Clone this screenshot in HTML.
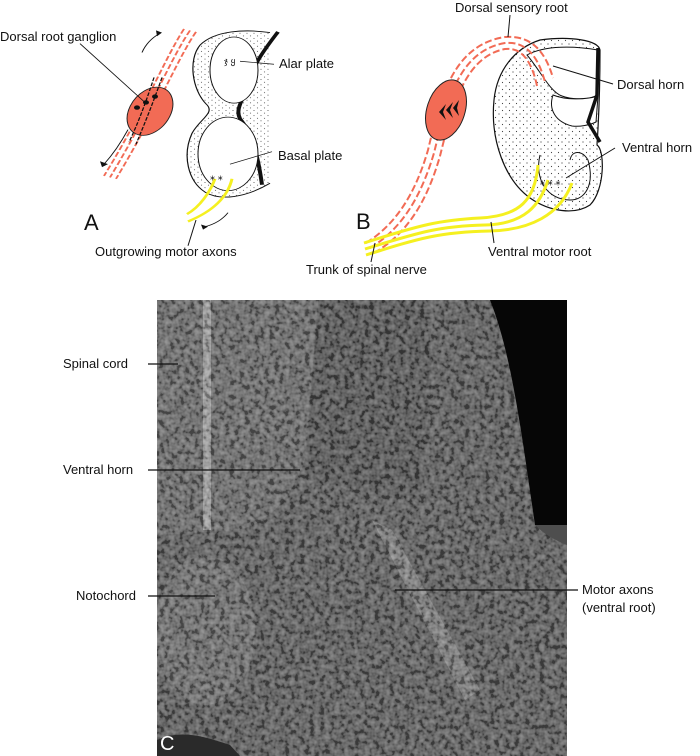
<!DOCTYPE html>
<html><head><meta charset="utf-8"><style>
html,body{margin:0;padding:0;background:#fff}
svg{display:block}
text{font-family:"Liberation Sans",sans-serif;font-size:13px;fill:#111}
</style></head><body>
<svg width="700" height="756" viewBox="0 0 700 756" xmlns="http://www.w3.org/2000/svg">
<defs>
<pattern id="dots" width="7" height="7" patternUnits="userSpaceOnUse"><circle cx="2" cy="2" r="0.6" fill="#444"/><circle cx="5.5" cy="5.5" r="0.6" fill="#444"/></pattern>
<filter id="tex" x="0" y="0" width="100%" height="100%">
<feTurbulence type="fractalNoise" baseFrequency="0.2" numOctaves="2" seed="3"/>
<feColorMatrix type="matrix" values="1.8 0 0 0 -0.6  1.8 0 0 0 -0.6  1.8 0 0 0 -0.6  0 0 0 0 0.32"/>
</filter>
<clipPath id="mc"><rect x="157" y="300" width="410" height="456"/></clipPath>
</defs>

<!-- Panel A (shapes vertically compressed) -->
<g transform="translate(0,1) scale(1,0.735)">
<g fill="none" stroke="#f26b55" stroke-width="2" stroke-dasharray="7,3">
<path d="M190 40 C170 80 150 150 110 240"/>
<path d="M184 38 C164 80 144 150 104 238"/>
<path d="M196 42 C176 82 156 152 116 242"/>
</g>
<ellipse cx="150" cy="150" rx="21" ry="34" transform="rotate(20 150 150)" fill="#f26b55" stroke="#222" stroke-width="1"/>
<g fill="none" stroke="#111" stroke-width="1.3" stroke-dasharray="5,2">
<path d="M162 104 C150 150 142 175 136 195"/><path d="M154 104 C143 150 135 175 129 192"/>
</g>
<circle cx="137" cy="145" r="3" fill="#111"/><circle cx="146" cy="138" r="3" fill="#111"/><circle cx="155" cy="130" r="3" fill="#111"/>
<line x1="80" y1="58" x2="145" y2="138" stroke="#111" stroke-width="1"/>
<path d="M142 70 C146 58 152 50 160 44" fill="none" stroke="#111"/><path d="M156 40 L162 43 L157 48" fill="#111"/>
<path d="M128 175 C120 195 112 210 104 222" fill="none" stroke="#111"/><path d="M100 218 L102 226 L108 222" fill="#111"/>
<path d="M270 43 C245 38 215 40 200 60 C188 80 192 120 206 140 C216 152 200 160 192 180 C182 210 188 245 205 260 C220 272 245 268 270 248" fill="url(#dots)" stroke="#111" stroke-width="1.2"/>
<path d="M278 42 C268 60 250 90 245 125 C240 140 236 150 240 160 C252 180 258 210 262 250" fill="none" stroke="#111" stroke-width="4"/>
<ellipse cx="234" cy="94" rx="24" ry="45" fill="#fff" stroke="#111"/>
<ellipse cx="228" cy="208" rx="30" ry="50" fill="#fff" stroke="#111"/>
<line x1="240" y1="82" x2="274" y2="86" stroke="#111"/>
<line x1="230" y1="222" x2="272" y2="205" stroke="#111"/>
<path d="M215 242 C210 260 200 280 187 290 M232 242 C228 265 215 285 188 300" fill="none" stroke="#f5f020" stroke-width="3"/>
<path d="M228 288 C222 298 214 304 205 307" fill="none" stroke="#111"/><path d="M201 304 L203 311 L208 307" fill="#111"/>
<line x1="196" y1="298" x2="188" y2="333" stroke="#111"/>
</g>
<text x="224" y="64" style="font-size:9px">ჯ ყ</text>
<text x="210" y="180" style="font-size:10px">⁎ ⁎</text>
<text x="0" y="41">Dorsal root ganglion</text>
<text x="279" y="68">Alar plate</text>
<text x="278" y="160">Basal plate</text>
<text x="84" y="230" style="font-size:22px">A</text>
<text x="95" y="256">Outgrowing motor axons</text>

<!-- Panel B -->
<path d="M540 40 C570 36 598 40 600 50 C600 90 598 130 597 145 C605 150 605 190 590 205 C575 215 550 212 530 198 C505 180 490 140 494 100 C497 70 515 48 540 40Z" fill="url(#dots)" stroke="#111" stroke-width="1.2"/>
<path d="M527 55 C545 45 575 46 598 50 L597 95 C590 100 572 100 562 96 C550 92 540 70 527 55Z" fill="#fff" stroke="#111"/>
<path d="M553 95 C548 110 556 122 572 126 C580 127 590 125 596 122 L598 96 C585 100 565 100 553 95Z" fill="#fff" stroke="#111"/>
<path d="M540 155 C534 180 548 200 570 200 C585 200 595 185 588 160 C582 150 572 150 570 160" fill="none" stroke="#111"/>
<path d="M598 48 L597 95 L588 122 L600 142" fill="none" stroke="#111" stroke-width="3.5"/>
<g fill="none" stroke="#f26b55" stroke-width="2" stroke-dasharray="7,3">
<path d="M366 243 C395 225 415 195 428 150 C440 100 452 45 505 37 C530 35 545 50 553 78"/>
<path d="M370 248 C400 230 420 200 434 153 C446 104 458 51 505 43 C526 41 538 56 545 82"/>
<path d="M374 253 C405 235 426 205 440 156 C452 108 464 57 505 49 C522 47 532 62 537 86"/>
</g>
<ellipse cx="446" cy="110" rx="19" ry="31" transform="rotate(18 446 110)" fill="#f26b55" stroke="#222"/>
<g fill="#111"><path d="M439 112 l7 -8 l-3 8 l3 8z"/><path d="M446 110 l7 -8 l-3 8 l3 8z"/><path d="M453 108 l6 -8 l-2 8 l2 8z"/></g>
<g fill="none" stroke="#f5f020" stroke-width="3">
<path d="M364 243 C420 225 440 220 480 218 C520 216 535 200 538 165"/>
<path d="M365 249 C420 232 440 226 485 225 C525 224 540 205 548 180"/>
<path d="M366 255 C420 238 440 232 490 231 C530 230 560 215 572 183"/>
</g>
<text x="540" y="185" style="font-size:10px">⁎ ⁎ ⁎</text>
<line x1="510" y1="15" x2="508" y2="37" stroke="#111"/>
<line x1="553" y1="66" x2="613" y2="84" stroke="#111"/>
<line x1="615" y1="148" x2="566" y2="178" stroke="#111"/>
<line x1="491" y1="222" x2="494" y2="243" stroke="#111"/>
<line x1="375" y1="243" x2="371" y2="262" stroke="#111"/>
<text x="455" y="12">Dorsal sensory root</text>
<text x="617" y="89">Dorsal horn</text>
<text x="622" y="152">Ventral horn</text>
<text x="356" y="229" style="font-size:22px">B</text>
<text x="488" y="256">Ventral motor root</text>
<text x="306" y="274">Trunk of spinal nerve</text>

<!-- Panel C micrograph -->
<g clip-path="url(#mc)">
<rect x="157" y="300" width="410" height="456" fill="#555"/>
<path d="M157 300 H318 L305 460 C290 500 270 520 240 530 L157 535Z" fill="#646464"/>
<path d="M318 300 H420 C440 340 430 420 420 500 L305 480Z" fill="#4c4c4c"/>
<rect x="203" y="300" width="8" height="230" fill="#a0a0a0"/>
<ellipse cx="205" cy="630" rx="50" ry="75" fill="#676767"/>
<path d="M372 520 L392 530 L480 690 L465 700 Z" fill="#7a7a7a"/>
<rect x="157" y="300" width="410" height="456" filter="url(#tex)"/>
<path d="M490 300 H567 V525 H535 C520 420 510 350 490 300Z" fill="#060606"/>
<path d="M535 525 H567 V545 C555 540 545 535 535 525Z" fill="#4e4e4e"/>
<path d="M157 740 C180 730 200 735 230 745 L240 756 H157Z" fill="#2a2a2a"/>
</g>
<g stroke="#111" stroke-width="1.2">
<line x1="148" y1="364" x2="178" y2="364"/>
<line x1="148" y1="470" x2="300" y2="470"/>
<line x1="148" y1="596" x2="215" y2="596"/>
<line x1="395" y1="590" x2="578" y2="590"/>
</g>
<text x="63" y="368">Spinal cord</text>
<text x="63" y="474">Ventral horn</text>
<text x="76" y="600">Notochord</text>
<text x="582" y="594">Motor axons</text>
<text x="582" y="612">(ventral root)</text>
<text x="160" y="750" style="font-size:20px;fill:#fff">C</text>
</svg>
</body></html>
